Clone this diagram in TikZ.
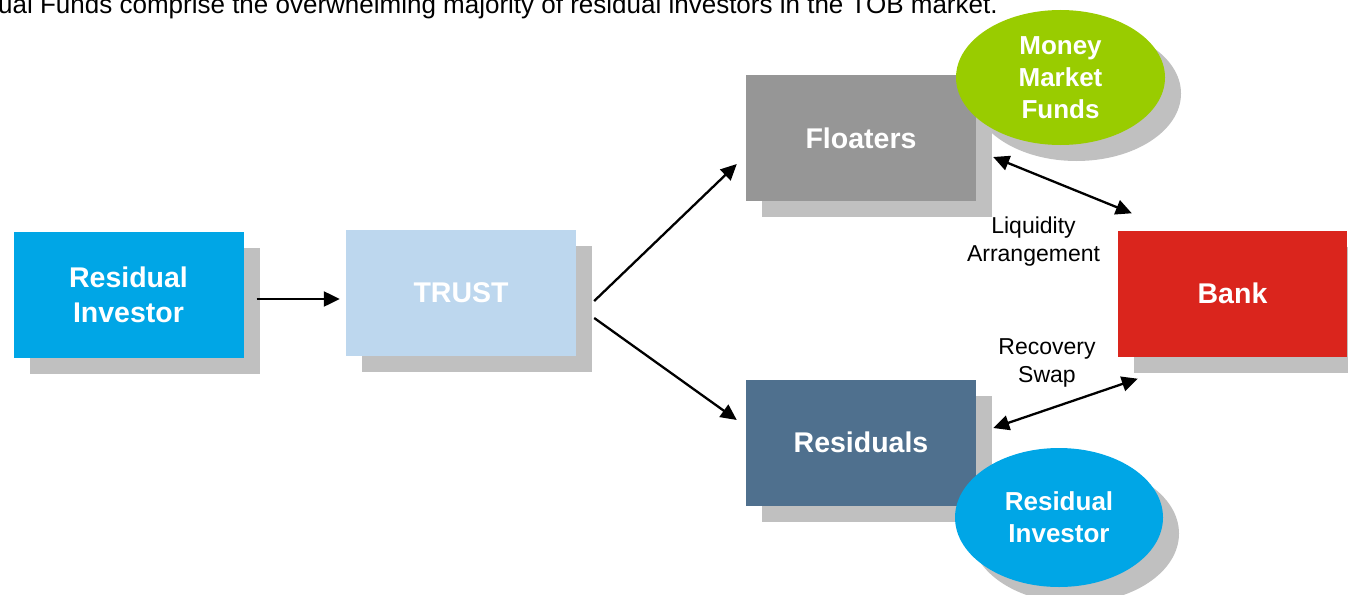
\documentclass[tikz,border=0pt]{standalone}
\usepackage{fontspec}
\setmainfont{Liberation Sans}
\usetikzlibrary{arrows.meta,shapes.geometric,shadows}
\definecolor{resblue}{RGB}{0,166,230}
\definecolor{trustblue}{RGB}{189,215,238}
\definecolor{floatgray}{RGB}{150,150,150}
\definecolor{slate}{RGB}{79,112,142}
\definecolor{bankred}{RGB}{218,37,29}
\definecolor{mmfgreen}{RGB}{153,204,0}
\definecolor{shadegray}{RGB}{192,192,192}
\tikzstyle{block}=[rectangle,minimum width=230pt,minimum height=126pt,inner sep=0pt,text=white,align=center,font=\fontsize{28.5}{35}\selectfont\bfseries,general shadow={fill=shadegray,shadow xshift=16pt,shadow yshift=-16pt}]
\tikzstyle{blob}=[ellipse,inner sep=0pt,text=white,align=center,font=\fontsize{26}{32}\selectfont\bfseries,general shadow={fill=shadegray,shadow xshift=16pt,shadow yshift=-16pt}]
\tikzstyle{edge} = [draw,line width=2.3pt,-{Triangle[length=16pt,width=15pt]}]
\tikzstyle{both} = [draw,line width=2.3pt,{Triangle[length=16pt,width=15pt]}-{Triangle[length=16pt,width=15pt]}]
\tikzstyle{weight} = [align=center,font=\fontsize{23}{28}\selectfont]

\begin{document}
\begin{tikzpicture}[x=1pt,y=-1pt]
        \useasboundingbox (0,0) rectangle (1348,594);
        \node[anchor=base west,inner sep=0pt,font=\fontsize{26}{30}\selectfont] (title) at (-2,14) {ual Funds comprise the overwhelming majority of residual investors in the TOB market.};
        \node[block,fill=resblue] (resinv) at (128.5,295) {Residual\\Investor};
        \node[block,fill=trustblue] (trust) at (461,293) {TRUST};
        \node[block,fill=floatgray] (floaters) at (861,138) {Floaters};
        \node[block,fill=slate] (residuals) at (861,442.5) {Residuals};
        \node[block,fill=bankred,minimum width=229pt] (bank) at (1232.5,293.5) {Bank};
        \node[blob,fill=mmfgreen,minimum width=209pt,minimum height=135pt] (mmf) at (1060.5,77.5) {Money\\Market\\Funds};
        \node[blob,fill=resblue,minimum width=208pt,minimum height=139pt] (resinv2) at (1059,517.5) {Residual\\Investor};
        \node[weight] (liq) at (1033.5,242) {Liquidity\\Arrangement};
        \node[weight] (swap) at (1047,362.5) {Recovery\\Swap};
        \path[edge] ([shift={(13,4)}]resinv.east) -- ([shift={(-6,6)}]trust.west);
        \path[edge] ([shift={(18,8)}]trust.east) -- ([shift={(-9,26)}]floaters.west);
        \path[edge] ([shift={(18,25)}]trust.east) -- ([shift={(-9,-22.5)}]residuals.west);
        \path[both] ([shift={(17,19)}]floaters.east) -- ([shift={(14,-17)}]bank.north west);
        \path[both] ([shift={(17,-14.5)}]residuals.east) -- ([shift={(20,22)}]bank.south west);
    \end{tikzpicture}
\end{document}
